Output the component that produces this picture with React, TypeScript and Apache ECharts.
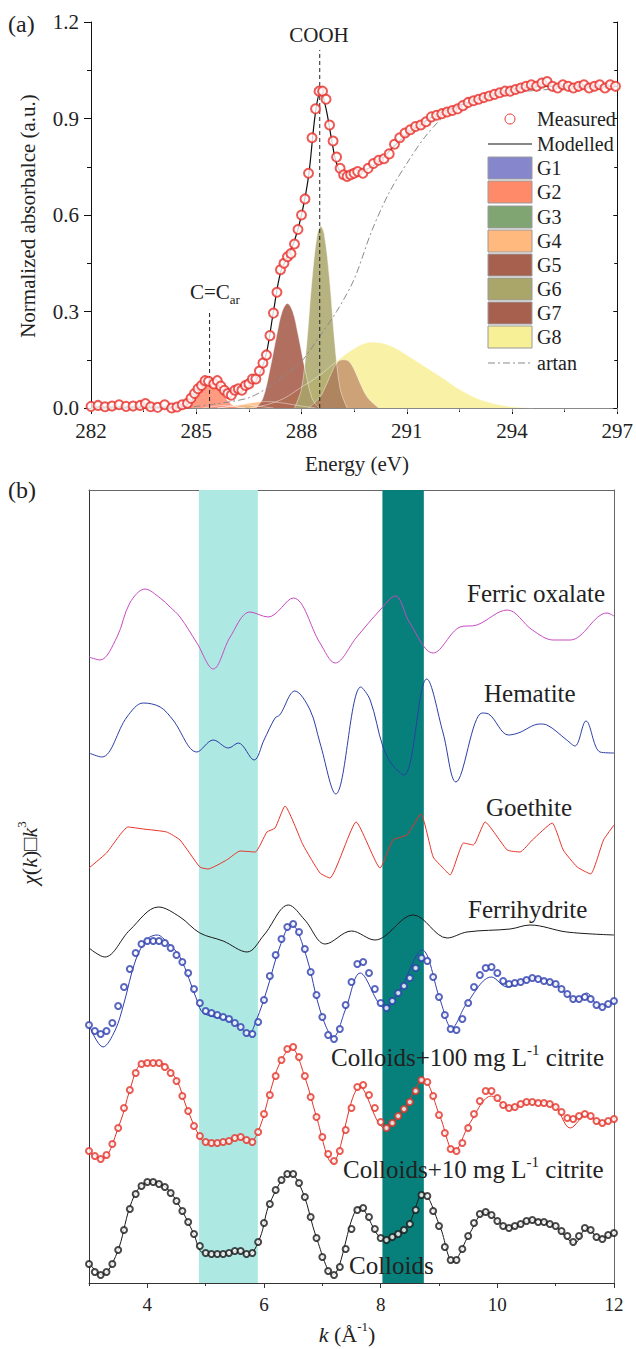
import React, { useEffect, useRef } from "react";
import * as echarts from "echarts";

// ---------------- Panel (a): C K-edge NEXAFS ----------------
const energyRange = [282, 297];
const absorbRange = [0, 1.2];

const measuredXanes: [number, number][] = [
  [282.0, 0.005], [282.2, 0.008], [282.4, 0.004], [282.6, 0.006], [282.8, 0.01], [283.0, 0.005],
  [283.2, 0.006], [283.4, 0.008], [283.55, 0.014], [283.7, 0.004], [283.9, 0.002], [284.1, 0.01],
  [284.3, 0.0], [284.45, 0.003], [284.6, 0.01], [284.75, 0.015], [284.85, 0.03], [284.95, 0.045],
  [285.05, 0.06], [285.15, 0.07], [285.25, 0.085], [285.35, 0.083], [285.5, 0.075], [285.6, 0.085],
  [285.7, 0.068], [285.8, 0.055], [285.9, 0.045], [286.0, 0.04], [286.1, 0.055], [286.2, 0.06],
  [286.3, 0.055], [286.4, 0.07], [286.5, 0.075], [286.6, 0.09], [286.7, 0.09], [286.8, 0.115],
  [286.9, 0.14], [287.0, 0.165], [287.1, 0.225], [287.2, 0.295], [287.3, 0.36], [287.4, 0.43],
  [287.5, 0.45], [287.6, 0.47], [287.7, 0.48], [287.8, 0.51], [287.9, 0.555], [288.0, 0.6],
  [288.1, 0.65], [288.2, 0.73], [288.3, 0.84], [288.4, 0.93], [288.5, 0.985], [288.6, 0.985],
  [288.7, 0.96], [288.8, 0.88], [288.9, 0.83], [289.0, 0.78], [289.1, 0.745], [289.2, 0.725],
  [289.3, 0.72], [289.4, 0.725], [289.5, 0.73], [289.6, 0.735], [289.75, 0.73], [289.9, 0.745],
  [290.05, 0.76], [290.2, 0.77], [290.35, 0.775], [290.5, 0.79], [290.65, 0.82], [290.8, 0.84],
  [290.95, 0.855], [291.1, 0.865], [291.25, 0.875], [291.4, 0.88], [291.55, 0.89], [291.7, 0.905],
  [291.85, 0.91], [292.0, 0.915], [292.15, 0.92], [292.3, 0.925], [292.45, 0.93], [292.6, 0.94],
  [292.75, 0.95], [292.9, 0.955], [293.05, 0.96], [293.2, 0.965], [293.35, 0.97], [293.5, 0.975],
  [293.65, 0.98], [293.8, 0.985], [293.95, 0.985], [294.1, 0.99], [294.25, 0.995], [294.4, 1.0],
  [294.55, 1.005], [294.7, 1.0], [294.85, 1.01], [295.0, 1.015], [295.15, 1.0], [295.3, 0.995],
  [295.45, 1.005], [295.6, 1.0], [295.75, 0.995], [295.9, 1.0], [296.05, 1.005], [296.2, 0.995],
  [296.35, 1.0], [296.5, 1.005], [296.65, 0.995], [296.8, 1.005], [296.95, 1.0],
];

const modelledXanes: [number, number][] = [
  [282, 0.003], [284.5, 0.003], [284.8, 0.015], [285.0, 0.04], [285.2, 0.07], [285.4, 0.08],
  [285.6, 0.07], [285.8, 0.055], [286.0, 0.047], [286.2, 0.05], [286.4, 0.06], [286.6, 0.075],
  [286.8, 0.105], [287.0, 0.17], [287.2, 0.3], [287.4, 0.42], [287.6, 0.47], [287.8, 0.52],
  [288.0, 0.6], [288.2, 0.72], [288.4, 0.92], [288.55, 0.985], [288.7, 0.93], [288.85, 0.84],
  [289.0, 0.76], [289.2, 0.725], [289.4, 0.725], [289.7, 0.735], [290.0, 0.75], [290.3, 0.775],
  [290.6, 0.81], [291.0, 0.85], [291.5, 0.89], [292.0, 0.92], [292.5, 0.94], [293.0, 0.96],
  [293.5, 0.975], [294.0, 0.99], [294.5, 0.998], [295.0, 1.0], [296.0, 1.0], [297, 1.0],
];

const arctanStep: [number, number][] = [
  [284.5, 0.0], [285.0, 0.005], [285.5, 0.012], [286.0, 0.02], [286.5, 0.032], [287.0, 0.06],
  [287.5, 0.1], [288.0, 0.145], [288.5, 0.22], [289.0, 0.3], [289.5, 0.4], [290.0, 0.55],
  [290.5, 0.67], [291.0, 0.76], [291.5, 0.84], [292.0, 0.9], [292.5, 0.935], [293.0, 0.955],
  [293.5, 0.97], [294.0, 0.98], [295.0, 0.99], [296.0, 0.995], [297.0, 1.0],
];

const g1: [number, number][] = [[285.2, 0], [285.5, 0.004], [285.8, 0.008], [286.1, 0.004], [286.4, 0]];
const g2: [number, number][] = [
  [284.6, 0], [284.8, 0.01], [285.0, 0.035], [285.2, 0.065], [285.4, 0.075], [285.6, 0.065],
  [285.8, 0.035], [286.0, 0.012], [286.2, 0.002], [286.4, 0],
];
const g3: [number, number][] = [[285.6, 0], [286.0, 0.005], [286.4, 0.01], [286.8, 0.005], [287.2, 0]];
const g4: [number, number][] = [
  [285.6, 0], [286.0, 0.006], [286.5, 0.015], [287.0, 0.02], [287.5, 0.015], [288.0, 0.006], [288.4, 0],
];
const g5: [number, number][] = [
  [286.7, 0], [286.9, 0.03], [287.1, 0.12], [287.3, 0.23], [287.45, 0.3], [287.6, 0.325],
  [287.75, 0.3], [287.9, 0.23], [288.1, 0.12], [288.3, 0.03], [288.5, 0],
];
const g6: [number, number][] = [
  [287.8, 0], [288.0, 0.06], [288.15, 0.2], [288.3, 0.4], [288.45, 0.54], [288.55, 0.565],
  [288.65, 0.54], [288.8, 0.4], [288.95, 0.2], [289.1, 0.06], [289.3, 0],
];
const g7: [number, number][] = [
  [288.2, 0], [288.5, 0.03], [288.7, 0.07], [288.9, 0.12], [289.05, 0.145], [289.2, 0.15],
  [289.35, 0.145], [289.5, 0.12], [289.7, 0.07], [289.9, 0.03], [290.2, 0],
];
const g8: [number, number][] = [
  [286.5, 0], [287.0, 0.01], [287.5, 0.03], [288.0, 0.065], [288.5, 0.1], [289.0, 0.145],
  [289.5, 0.185], [290.0, 0.205], [290.5, 0.195], [291.0, 0.165], [291.5, 0.13], [292.0, 0.095],
  [292.5, 0.058], [293.0, 0.03], [293.5, 0.013], [294.0, 0.004], [294.6, 0],
];
const gaussNames = ["G1", "G2", "G3", "G4", "G5", "G6", "G7", "G8"];
const gaussData = [g1, g2, g3, g4, g5, g6, g7, g8];
const gaussColors = ["#8686cc", "#ff8a6a", "#80a573", "#ffb87e", "#a8604e", "#aaa66a", "#a8604e", "#f8f096"];
const gaussOpacity = [0.85, 0.85, 0.85, 0.85, 0.9, 0.85, 0.55, 0.85];
const gaussDrawOrder = [7, 0, 2, 3, 1, 4, 5, 6];

const peakMarks = [
  { label: "COOH", energy: 288.52, top: 1.113 },
  { label: "C=C", energy: 285.38, top: 0.305 },
];

// ---------------- Panel (b): Fe K-edge EXAFS ----------------
const kRange = [3, 12];
const kLabelTicks = [4, 6, 8, 10, 12];
const kMinorTicks = [3, 5, 7, 9, 11];
const shadedBands = [
  { from: 4.885, to: 5.895, color: "#ade8e2" },
  { from: 8.03, to: 8.74, color: "#07807b" },
];

const refNames = ["Ferric oxalate", "Hematite", "Goethite", "Ferrihydrite"];
const refOffsets = [65.3, 54.8, 43.5, 34.8];
const refColors = ["#c74ac2", "#2c3ea6", "#e8342a", "#1a1a1a"];

const ferricOxalate: [number, number][] = [
  [3.0, -2.7], [3.19, -3.0], [3.48, -0.7], [3.7, 2.7], [3.96, 4.1], [4.22, 3.2], [4.39, 2.3],
  [4.56, 1.3], [4.85, -1.3], [5.13, -3.9], [5.42, -0.7], [5.76, 1.8], [6.07, 1.3], [6.5, 3.2],
  [6.96, -1.3], [7.22, -3.3], [7.59, -0.7], [7.99, 2.0], [8.25, 3.4], [8.5, 0.7], [8.9, -2.3],
  [9.36, 0.3], [9.65, 0.5], [10.17, 2.0], [10.6, 0.0], [10.96, -1.0], [11.25, -1.0], [11.88, 1.7],
  [12.0, 1.4],
];
const hematite: [number, number][] = [
  [3.0, -1.8], [3.22, -2.2], [3.65, 1.8], [3.93, 3.2], [4.22, 2.8], [4.44, 1.5], [4.85, -1.7],
  [5.13, -0.5], [5.39, -1.3], [5.56, -0.8], [5.83, -2.5], [6.0, -0.5], [6.19, 1.7], [6.27, 2.0],
  [6.53, 4.4], [6.79, 2.5], [6.96, -0.8], [7.23, -5.9], [7.66, 4.8], [7.82, 3.5], [8.04, -1.2],
  [8.2, -3.0], [8.4, -4.0], [8.79, 5.6], [9.07, 0.2], [9.29, -4.7], [9.74, 2.2], [9.85, 2.1],
  [10.19, 0.0], [10.36, 0.2], [10.73, 1.1], [10.85, 1.0], [11.19, -0.5], [11.33, -1.1], [11.52, 1.4],
  [11.76, -1.7], [12.0, -1.8],
];
const goethite: [number, number][] = [
  [3.0, -2.0], [3.3, -0.5], [3.67, 2.1], [3.93, 1.9], [4.33, 1.6], [4.56, 0.8], [4.9, -1.9],
  [5.04, -2.1], [5.36, -1.2], [5.59, -0.3], [5.85, -0.4], [6.05, 1.6], [6.19, 2.0], [6.36, 4.2],
  [6.67, 0.3], [6.96, -2.5], [7.13, -3.0], [7.58, 2.6], [7.99, -2.0], [8.21, 0.8], [8.45, 1.3],
  [8.69, 3.4], [8.9, -0.9], [9.07, -2.0], [9.19, -2.7], [9.42, 0.5], [9.59, 0.3], [9.79, 2.6],
  [10.17, -0.2], [10.39, -0.4], [10.6, 0.8], [10.94, 2.5], [11.13, -0.2], [11.37, -1.9], [11.6, -2.6],
  [11.82, 0.8], [12.0, 2.3],
];
const ferrihydrite: [number, number][] = [
  [3.0, -1.3], [3.27, -2.2], [3.7, 0.5], [4.19, 2.8], [4.56, 1.8], [4.9, 0.2], [5.3, -0.6],
  [5.71, -1.7], [6.0, 0.0], [6.42, 3.0], [6.7, 1.5], [7.05, -0.9], [7.5, 0.4], [7.9, -0.5],
  [8.56, 2.0], [9.14, -0.3], [9.48, 0.3], [10.22, 0.6], [10.56, 1.0], [11.19, 0.3], [12.0, 0.0],
];
const refData = [ferricOxalate, hematite, goethite, ferrihydrite];

const sampleNames = ["Colloids+100 mg L-1 citrite", "Colloids+10 mg L-1 citrite", "Colloids"];
const sampleOffsets = [29.8, 17.8, 5.8];
const sampleColors = ["#2f40b0", "#e5342a", "#1a1a1a"];

const kGrid = [
  3.0, 3.1, 3.2, 3.3, 3.4, 3.5, 3.6, 3.7, 3.8, 3.9, 4.0, 4.1, 4.2, 4.3, 4.4, 4.5, 4.6, 4.7, 4.8, 4.9,
  5.0, 5.1, 5.2, 5.3, 5.4, 5.5, 5.6, 5.7, 5.8, 5.9, 6.0, 6.1, 6.2, 6.3, 6.4, 6.5, 6.6, 6.7, 6.8, 6.9,
  7.0, 7.1, 7.2, 7.3, 7.4, 7.5, 7.6, 7.7, 7.8, 7.9, 8.0, 8.1, 8.2, 8.3, 8.4, 8.5, 8.6, 8.7, 8.8, 8.9,
  9.0, 9.1, 9.2, 9.3, 9.4, 9.5, 9.6, 9.7, 9.8, 9.9, 10.0, 10.1, 10.2, 10.3, 10.4, 10.5, 10.6, 10.7,
  10.8, 10.9, 11.0, 11.1, 11.2, 11.3, 11.4, 11.5, 11.6, 11.7, 11.8, 11.9, 12.0,
];
const colloids100Measured = [
  -4.0, -4.6, -4.9, -4.6, -3.8, -2.1, -0.2, 1.6, 3.2, 4.1, 4.4, 4.4, 4.4, 4.2, 3.7, 3.0, 2.3, 1.2, -0.4, -1.8,
  -2.6, -2.8, -3.0, -3.2, -3.4, -3.8, -4.2, -4.8, -4.9, -3.7, -1.5, 0.9, 3.0, 4.6, 5.8, 6.1, 5.3, 3.6, 1.3, -1.0,
  -3.2, -5.0, -5.4, -4.4, -2.0, 0.3, 2.1, 2.3, 1.2, -0.4, -1.8, -2.3, -1.6, -0.8, -0.1, 0.7, 1.7, 2.7, 2.4, 0.8,
  -1.2, -3.0, -4.4, -4.5, -3.4, -1.8, -0.2, 1.0, 1.7, 1.8, 1.2, 0.4, 0.1, 0.2, 0.3, 0.5, 0.7, 0.6, 0.4, 0.3,
  0.1, -0.4, -0.9, -1.4, -1.4, -1.2, -1.4, -2.0, -2.2, -1.9, -1.6,
];
const colloids10Measured = [
  -4.6, -5.1, -5.4, -5.0, -3.9, -2.3, -0.3, 1.5, 3.2, 4.1, 4.2, 4.2, 4.2, 3.8, 3.2, 2.4, 0.9, -0.6, -2.1, -3.1,
  -3.7, -3.8, -3.8, -3.7, -3.6, -3.3, -3.2, -3.5, -3.7, -2.7, -0.9, 1.0, 2.9, 4.5, 5.6, 5.8, 4.8, 2.9, 0.8, -1.2,
  -3.2, -4.9, -5.6, -4.6, -2.5, -0.3, 1.8, 2.0, 1.0, -0.3, -1.7, -2.3, -1.8, -1.1, -0.4, 0.3, 1.4, 2.5, 2.3, 0.9,
  -1.0, -2.8, -4.4, -4.6, -3.8, -2.3, -0.9, 0.4, 1.4, 1.4, 0.7, 0.0, -0.3, -0.2, 0.1, 0.3, 0.3, 0.2, 0.2, 0.1,
  -0.2, -0.7, -1.3, -1.4, -1.1, -0.9, -1.1, -1.6, -1.8, -1.6, -1.4,
];
const colloidsMeasured = [
  -3.9, -4.7, -5.0, -4.7, -3.9, -2.5, -0.5, 1.6, 3.1, 3.9, 4.3, 4.3, 4.1, 3.8, 3.2, 2.4, 1.4, 0.3, -0.9, -2.1,
  -2.8, -2.9, -2.9, -2.9, -2.8, -2.6, -2.6, -2.9, -2.8, -1.7, 0.2, 2.1, 3.5, 4.5, 5.1, 5.1, 4.2, 2.8, 0.8, -1.3,
  -3.2, -4.6, -5.0, -4.2, -2.4, -0.4, 1.5, 1.7, 0.8, -0.4, -1.3, -1.5, -1.2, -0.9, -0.5, 0.1, 1.5, 3.0, 2.9, 1.4,
  -0.1, -2.2, -3.5, -3.5, -2.4, -1.1, 0.2, 1.1, 1.3, 1.0, 0.4, -0.1, -0.3, -0.1, 0.1, 0.4, 0.5, 0.3, 0.3, 0.1,
  -0.1, -0.6, -1.1, -1.7, -1.1, -0.3, -0.5, -1.2, -1.4, -1.0, -0.8,
];
const sampleMeasured = [colloids100Measured, colloids10Measured, colloidsMeasured];

const colloids100Fit: [number, number][] = [
  [3.0, -4.0], [3.24, -6.2], [3.45, -4.5], [3.6, -1.8], [3.8, 2.5], [4.0, 4.6], [4.17, 5.0], [4.35, 4.2],
  [4.56, 2.8], [4.85, -1.5], [4.96, -2.8], [5.36, -3.5], [5.59, -4.2], [5.73, -5.0], [5.87, -3.5],
  [6.05, -0.5], [6.27, 3.8], [6.47, 6.1], [6.73, 2.8], [6.96, -2.5], [7.19, -5.2], [7.4, -2.4],
  [7.65, 1.2], [8.07, -2.3], [8.33, -0.5], [8.71, 3.5], [9.02, -1.5], [9.22, -4.3], [9.48, -1.8],
  [9.9, 0.8], [10.17, -0.2], [10.6, 0.7], [10.96, 0.2], [11.37, -1.5], [11.53, -0.8], [11.76, -2.2],
  [12.0, -1.7],
];
const colloids10Fit: [number, number][] = [
  [3.0, -4.7], [3.22, -5.4], [3.53, -1.8], [3.7, 1.5], [3.87, 4.0], [4.05, 4.2], [4.22, 4.2], [4.5, 2.5],
  [4.67, -0.2], [4.9, -3.2], [5.02, -3.8], [5.36, -3.7], [5.56, -3.2], [5.76, -3.7], [5.93, -2.2],
  [6.1, 1.2], [6.27, 4.2], [6.47, 5.7], [6.7, 2.8], [6.9, -1.2], [7.17, -5.8], [7.65, 1.8],
  [8.07, -2.3], [8.39, -0.5], [8.73, 2.5], [9.02, -1.2], [9.26, -4.7], [9.53, -1.8], [9.9, 0.9],
  [10.22, -0.3], [10.56, 0.3], [10.96, 0.0], [11.25, -2.3], [11.53, -1.0], [11.8, -1.9], [12.0, -1.3],
];
const colloidsFit: [number, number][] = [
  [3.0, -3.8], [3.22, -5.0], [3.48, -2.8], [3.7, 1.8], [3.87, 3.8], [4.07, 4.3], [4.33, 3.7],
  [4.56, 1.8], [4.79, -0.8], [4.96, -2.8], [5.36, -2.9], [5.54, -2.6], [5.73, -3.0], [5.93, -1.3],
  [6.1, 2.2], [6.45, 5.2], [6.67, 3.2], [6.9, -1.3], [7.18, -5.0], [7.65, 1.8], [8.07, -1.5],
  [8.45, -0.2], [8.73, 3.2], [9.02, -0.2], [9.24, -3.7], [9.53, -0.8], [9.79, 1.3], [10.22, -0.3],
  [10.6, 0.5], [10.96, 0.0], [11.33, -1.8], [11.53, -0.3], [11.76, -1.3], [12.0, -0.8],
];
const sampleFits = [colloids100Fit, colloids10Fit, colloidsFit];

const FONT = '"Liberation Serif", "Times New Roman", serif';
const INK = "#222";

function shift(data: [number, number][], off: number) {
  return data.map(([x, y]) => [x, y + off]);
}

export default function App() {
  const ref = useRef<HTMLDivElement>(null);

  useEffect(() => {
    document.body.style.margin = "0";
    const chart = echarts.init(ref.current!, null, { renderer: "svg" });

    const series: any[] = [];

    // Panel (a) gaussian components
    gaussDrawOrder.forEach((i) => {
      series.push({
        name: gaussNames[i],
        type: "line",
        xAxisIndex: 0,
        yAxisIndex: 0,
        data: gaussData[i],
        smooth: 0.35,
        symbol: "none",
        lineStyle: { color: "rgba(255,255,255,0.55)", width: 0.8 },
        areaStyle: { color: gaussColors[i], opacity: gaussOpacity[i] },
        z: 2,
      });
    });
    series.push({
      name: "artan",
      type: "line",
      xAxisIndex: 0,
      yAxisIndex: 0,
      data: arctanStep,
      smooth: 0.3,
      symbol: "none",
      lineStyle: { color: "#8a8a8a", width: 1, type: [7, 3, 2, 3] },
      z: 3,
    });
    peakMarks.forEach((p) => {
      series.push({
        type: "line",
        xAxisIndex: 0,
        yAxisIndex: 0,
        data: [[p.energy, 0], [p.energy, p.top]],
        symbol: "none",
        lineStyle: { color: "#222", width: 1, type: [4, 3] },
        z: 4,
      });
    });
    series.push({
      name: "Modelled",
      type: "line",
      xAxisIndex: 0,
      yAxisIndex: 0,
      data: modelledXanes,
      smooth: 0.35,
      symbol: "none",
      lineStyle: { color: "#111", width: 1.2 },
      z: 5,
    });
    series.push({
      name: "Measured",
      type: "scatter",
      xAxisIndex: 0,
      yAxisIndex: 0,
      data: measuredXanes,
      symbol: "emptyCircle",
      symbolSize: 9,
      itemStyle: { color: "#e8302a", borderColor: "#e8302a", borderWidth: 0.9 },
      z: 6,
    });

    // Panel (b) shaded bands
    series.push({
      type: "line",
      xAxisIndex: 2,
      yAxisIndex: 2,
      data: [],
      silent: true,
      z: 1,
      markArea: {
        silent: true,
        itemStyle: { opacity: 1 },
        data: shadedBands.map((b) => [
          { xAxis: b.from, itemStyle: { color: b.color } },
          { xAxis: b.to },
        ]),
      },
    });
    refData.forEach((d, i) => {
      series.push({
        name: refNames[i],
        type: "line",
        xAxisIndex: 2,
        yAxisIndex: 2,
        data: shift(d, refOffsets[i]),
        smooth: i === 2 ? 0.15 : 0.35,
        symbol: "none",
        lineStyle: { color: refColors[i], width: 1 },
        z: 3,
      });
    });
    sampleFits.forEach((d, i) => {
      series.push({
        name: sampleNames[i] + " fit",
        type: "line",
        xAxisIndex: 2,
        yAxisIndex: 2,
        data: shift(d, sampleOffsets[i]),
        smooth: 0.35,
        symbol: "none",
        lineStyle: { color: sampleColors[i], width: 1 },
        z: 3,
      });
      series.push({
        name: sampleNames[i],
        type: "scatter",
        xAxisIndex: 2,
        yAxisIndex: 2,
        data: kGrid.map((k, j) => [k, sampleMeasured[i][j] + sampleOffsets[i]]),
        symbol: "emptyCircle",
        symbolSize: 6,
        itemStyle: { color: sampleColors[i], borderColor: sampleColors[i], borderWidth: 1.1 },
        z: 4,
      });
    });

    const tickLabel = { color: INK, fontFamily: FONT };

    const legendX = 488;
    const legendRows = [119, 144, 168, 192, 217, 241, 265, 289, 313, 337, 363];
    const legendGraphics: any[] = [];
    legendGraphics.push({
      type: "circle",
      z: 100,
      shape: { cx: 510, cy: legendRows[0], r: 5 },
      style: { fill: "#fff", stroke: "#e8302a", lineWidth: 1 },
    });
    legendGraphics.push({
      type: "line",
      z: 100,
      shape: { x1: legendX, y1: legendRows[1], x2: legendX + 44, y2: legendRows[1] },
      style: { stroke: "#111", lineWidth: 1.2 },
    });
    gaussNames.forEach((n, i) => {
      legendGraphics.push({
        type: "rect",
        z: 100,
        shape: { x: legendX, y: legendRows[i + 2] - 11, width: 44, height: 22 },
        style: { fill: gaussColors[i], stroke: "#9a9a9a", lineWidth: 1 },
      });
    });
    legendGraphics.push({
      type: "line",
      z: 100,
      shape: { x1: legendX, y1: legendRows[10], x2: legendX + 44, y2: legendRows[10] },
      style: { stroke: "#8a8a8a", lineWidth: 1, lineDash: [7, 3, 2, 3] },
    });
    ["Measured", "Modelled", ...gaussNames, "artan"].forEach((t, i) => {
      legendGraphics.push({
        type: "text",
        z: 100,
        x: 537,
        y: legendRows[i],
        style: {
          text: t,
          fill: INK,
          fontSize: 20,
          fontFamily: FONT,
          textAlign: "left",
          textVerticalAlign: "middle",
          verticalAlign: "middle",
        },
      });
    });

    const txt = (x: number, y: number, text: string, size: number, extra: any = {}) => ({
      type: "text",
      z: 100,
      x,
      y,
      style: {
        text,
        fill: INK,
        fontSize: size,
        fontFamily: FONT,
        textAlign: "left",
        textVerticalAlign: "middle",
        verticalAlign: "middle",
        ...extra,
      },
    });
    const supRich = {
      n: { fontSize: 25, fontFamily: FONT, fill: INK, lineHeight: 30 },
      s: { fontSize: 15, fontFamily: FONT, fill: INK, lineHeight: 30, verticalAlign: "top", padding: [0, 0, 12, 0] },
    };

    const labelGraphics: any[] = [
      txt(8, 24, "(a)", 24),
      txt(8, 490, "(b)", 24),
      txt(357, 464, "Energy (eV)", 21, { textAlign: "center" }),
      {
        type: "text",
        z: 100,
        x: 28,
        y: 216,
        rotation: Math.PI / 2,
        style: {
          text: "Normalized absorbalce (a.u.)",
          fill: INK,
          fontSize: 21,
          fontFamily: FONT,
          textAlign: "center",
          textVerticalAlign: "middle",
          verticalAlign: "middle",
        },
      },
      txt(319, 35, "COOH", 21, { textAlign: "center" }),
      {
        type: "text",
        z: 100,
        x: 190,
        y: 292,
        style: {
          text: "{n|C=C}{b|ar}",
          rich: {
            n: { fontSize: 21, fontFamily: FONT, fill: INK, lineHeight: 28 },
            b: { fontSize: 13, fontFamily: FONT, fill: INK, lineHeight: 28, verticalAlign: "bottom", padding: [14, 0, 0, 0] },
          },
          textAlign: "left",
          textVerticalAlign: "middle",
          verticalAlign: "middle",
        },
      },
      txt(467, 593, "Ferric oxalate", 25),
      txt(484, 693, "Hematite", 25),
      txt(486, 807, "Goethite", 25),
      txt(468, 909, "Ferrihydrite", 25),
      {
        type: "text",
        z: 100,
        x: 331,
        y: 1057,
        style: {
          text: "{n|Colloids+100 mg L}{s|-1}{n| citrite}",
          rich: supRich,
          textAlign: "left",
          textVerticalAlign: "middle",
          verticalAlign: "middle",
        },
      },
      {
        type: "text",
        z: 100,
        x: 343,
        y: 1169,
        style: {
          text: "{n|Colloids+10 mg L}{s|-1}{n| citrite}",
          rich: supRich,
          textAlign: "left",
          textVerticalAlign: "middle",
          verticalAlign: "middle",
        },
      },
      txt(349, 1265, "Colloids", 25),
      {
        type: "text",
        z: 100,
        x: 347,
        y: 1334,
        style: {
          text: "{i|k}{n| (Å}{s|-1}{n|)}",
          rich: {
            i: { fontSize: 22, fontFamily: FONT, fontStyle: "italic", fill: INK, lineHeight: 28 },
            n: { fontSize: 22, fontFamily: FONT, fill: INK, lineHeight: 28 },
            s: { fontSize: 13, fontFamily: FONT, fill: INK, lineHeight: 28, verticalAlign: "top", padding: [0, 0, 12, 0] },
          },
          textAlign: "center",
          textVerticalAlign: "middle",
          verticalAlign: "middle",
        },
      },
      {
        type: "text",
        z: 100,
        x: 29,
        y: 853,
        rotation: Math.PI / 2,
        style: {
          text: "{i|χ}{n|(}{i|k}{n|)□}{i|k}{s|3}",
          rich: {
            i: { fontSize: 22, fontFamily: FONT, fontStyle: "italic", fill: INK, lineHeight: 28 },
            n: { fontSize: 22, fontFamily: FONT, fill: INK, lineHeight: 28 },
            s: { fontSize: 13, fontFamily: FONT, fill: INK, lineHeight: 28, verticalAlign: "top", padding: [0, 0, 12, 0] },
          },
          textAlign: "center",
          textVerticalAlign: "middle",
          verticalAlign: "middle",
        },
      },
    ];

    chart.setOption({
      animation: false,
      backgroundColor: "#fff",
      grid: [
        { left: 91, top: 22, width: 527, height: 386 },
        { left: 89, top: 490, width: 525, height: 793 },
      ],
      xAxis: [
        {
          type: "value",
          gridIndex: 0,
          position: "bottom",
          min: energyRange[0],
          max: energyRange[1],
          interval: 3,
          axisLine: { show: true, lineStyle: { color: "#111", width: 1 } },
          axisTick: { show: true, inside: false, length: 6, lineStyle: { color: "#111" } },
          minorTick: { show: true, splitNumber: 2, length: 4, lineStyle: { color: "#111" } },
          axisLabel: { ...tickLabel, fontSize: 21, margin: 12 },
          splitLine: { show: false },
        },
        {
          type: "value",
          gridIndex: 0,
          position: "top",
          min: energyRange[0],
          max: energyRange[1],
          interval: 3,
          axisLine: { show: true, lineStyle: { color: "#888", width: 1.2 } },
          axisTick: { show: true, inside: true, length: 4, lineStyle: { color: "#888" } },
          minorTick: { show: true, splitNumber: 2, length: 3, lineStyle: { color: "#888" } },
          axisLabel: { show: false },
          splitLine: { show: false },
        },
        {
          type: "value",
          gridIndex: 1,
          position: "bottom",
          min: kRange[0],
          max: kRange[1],
          axisLine: { show: true, lineStyle: { color: "#333", width: 1 } },
          axisTick: { show: true, inside: false, length: 5, customValues: kLabelTicks, lineStyle: { color: "#333" } },
          axisLabel: { ...tickLabel, fontSize: 19, margin: 12, customValues: kLabelTicks },
          splitLine: { show: false },
        },
        {
          type: "value",
          gridIndex: 1,
          position: "bottom",
          min: kRange[0],
          max: kRange[1],
          axisLine: { show: false },
          axisTick: { show: true, inside: false, length: 3, customValues: kMinorTicks, lineStyle: { color: "#333" } },
          axisLabel: { show: false },
          splitLine: { show: false },
        },
        {
          type: "value",
          gridIndex: 1,
          position: "top",
          min: kRange[0],
          max: kRange[1],
          axisLine: { show: true, lineStyle: { color: "#666", width: 1 } },
          axisTick: { show: false },
          axisLabel: { show: false },
          splitLine: { show: false },
        },
      ],
      yAxis: [
        {
          type: "value",
          gridIndex: 0,
          position: "left",
          min: absorbRange[0],
          max: absorbRange[1],
          interval: 0.3,
          axisLine: { show: true, lineStyle: { color: "#111", width: 1 } },
          axisTick: { show: true, inside: false, length: 7, lineStyle: { color: "#111" } },
          minorTick: { show: true, splitNumber: 2, length: 4, lineStyle: { color: "#111" } },
          axisLabel: { ...tickLabel, fontSize: 21, margin: 12, formatter: (v: number) => v.toFixed(1) },
          splitLine: { show: false },
        },
        {
          type: "value",
          gridIndex: 0,
          position: "right",
          min: absorbRange[0],
          max: absorbRange[1],
          interval: 0.3,
          axisLine: { show: true, lineStyle: { color: "#111", width: 1 } },
          axisTick: { show: true, inside: true, length: 4, lineStyle: { color: "#111" } },
          minorTick: { show: true, splitNumber: 2, length: 3, lineStyle: { color: "#111" } },
          axisLabel: { show: false },
          splitLine: { show: false },
        },
        {
          type: "value",
          gridIndex: 1,
          position: "left",
          min: 0,
          max: 79.3,
          axisLine: { show: true, lineStyle: { color: "#333", width: 1 } },
          axisTick: { show: false },
          axisLabel: { show: false },
          splitLine: { show: false },
        },
        {
          type: "value",
          gridIndex: 1,
          position: "right",
          min: 0,
          max: 79.3,
          axisLine: { show: true, lineStyle: { color: "#666", width: 1 } },
          axisTick: { show: false },
          axisLabel: { show: false },
          splitLine: { show: false },
        },
      ],
      series,
      graphic: [...legendGraphics, ...labelGraphics],
    });

    return () => chart.dispose();
  }, []);

  return (
    <div
      ref={ref}
      style={{ position: "absolute", left: 0, top: 0, width: 636, height: 1349, background: "#fff" }}
    />
  );
}
